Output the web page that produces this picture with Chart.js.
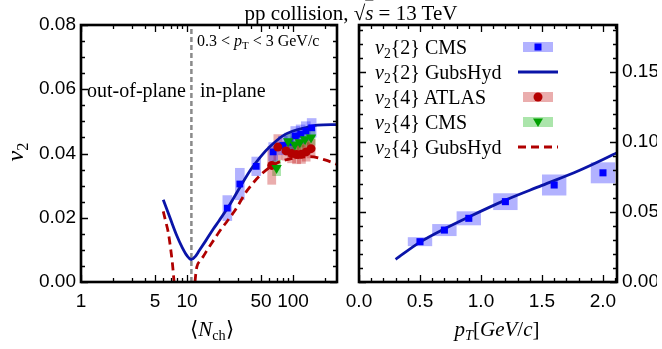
<!DOCTYPE html>
<html>
<head>
<meta charset="utf-8">
<script src="https://cdn.jsdelivr.net/npm/chart.js@4.4.0/dist/chart.umd.min.js"></script>
<style>
body { margin: 0; background: #fff; }
#wrap { position: relative; width: 662px; height: 349px; overflow: hidden; }
canvas { position: absolute; left: 0; top: 0; }
.t { position: absolute; font-family: "Liberation Serif", "Times New Roman", serif; white-space: nowrap; color: #000; line-height: 1; }
.c { transform: translate(-50%, -50%); }
.i { font-style: italic; }
.s { font-size: 0.68em; position: relative; top: 0.28em; }
.lg { position: absolute; left: 375px; font-size: 20px; transform: translateY(-50%); }
</style>
</head>
<body>
<div id="wrap">
  <canvas id="left" width="662" height="349"></canvas>
  <canvas id="right" width="662" height="349"></canvas>

  <div class="t c" style="left:351px; top:13px; font-size:21px;">pp collision, √<span class="i" style="text-decoration:overline">s</span> = 13 TeV</div>
  <div class="t" style="left:197px; top:33px; font-size:16px;">0.3 &lt; <span class="i">p</span><span class="s">T</span> &lt; 3 GeV/c</div>
  <div class="t" style="left:87px; top:80px; font-size:20px;">out-of-plane</div>
  <div class="t" style="left:200px; top:80px; font-size:20px;">in-plane</div>
  <div class="t c" style="left:15px; top:152px; font-size:24px; transform:translate(-50%,-50%) rotate(-90deg);"><span class="i">v</span><span class="s">2</span></div>
  <div class="t c" style="left:212px; top:329px; font-size:21px;">⟨<span class="i">N</span><span class="s">ch</span>⟩</div>
  <div class="t c" style="left:497px; top:329px; font-size:21px;"><span class="i">p</span><span class="s i">T</span>[<span class="i">GeV</span>/<span class="i">c</span>]</div>

  <div class="t lg" style="top:47px;"><span class="i">v</span><span class="s">2</span>{2} CMS</div>
  <div class="t lg" style="top:72px;"><span class="i">v</span><span class="s">2</span>{2} GubsHyd</div>
  <div class="t lg" style="top:97px;"><span class="i">v</span><span class="s">2</span>{4} ATLAS</div>
  <div class="t lg" style="top:122px;"><span class="i">v</span><span class="s">2</span>{4} CMS</div>
  <div class="t lg" style="top:147px;"><span class="i">v</span><span class="s">2</span>{4} GubsHyd</div>
</div>
<script>
// ---- left panel: v2 vs <Nch> ----
const nchTicks = [1, 5, 10, 50, 100];
const nchMinor = [2, 3, 4, 6, 7, 8, 9, 20, 30, 40, 60, 70, 80, 90, 200];
const v2LeftTicks = [0, 0.02, 0.04, 0.06, 0.08];
const nSplit = 11;

// GubsHyd v2{2}
const hydN2 = [5.97, 7, 8, 9, 10, 11, 12, 13, 15, 17.7, 20, 25, 31.6, 40, 50, 60, 80, 100, 130, 170, 260];
const hydV2 = [0.0256, 0.0195, 0.0145, 0.0108, 0.0082, 0.0070, 0.0080, 0.0097, 0.0128, 0.0165, 0.019, 0.0238, 0.0295, 0.035, 0.0392, 0.042, 0.0455, 0.047, 0.048, 0.0488, 0.049];
// GubsHyd v2{4} (null = not defined)
const hydN4 = [5.97, 6.3, 6.65, 7.0, 7.3, 7.55, 10, 11.9, 12.1, 12.4, 13.2, 14.2, 15.4, 18, 20, 24, 28, 37, 52, 70, 100, 145, 200, 260];
const hydV4 = [0.022, 0.0188, 0.0155, 0.0105, 0.0055, 0.0, null, 0.0, 0.0025, 0.0048, 0.0065, 0.0079, 0.0098, 0.0132, 0.0155, 0.019, 0.022, 0.0285, 0.034, 0.037, 0.0385, 0.039, 0.038, 0.0366];

// CMS v2{2}
const cms2N = [24, 31.5, 45, 65, 80, 92, 105, 118, 132, 150];
const cms2V = [0.023, 0.0305, 0.036, 0.0405, 0.0425, 0.0435, 0.0455, 0.046, 0.047, 0.048];
const cms2E = [0.004, 0.005, 0.003, 0.003, 0.003, 0.003, 0.003, 0.003, 0.003, 0.003];
// ATLAS v2{4}
const atlasN = [63, 72, 86, 97, 108, 120, 133, 148];
const atlasV = [0.0363, 0.042, 0.0408, 0.040, 0.0397, 0.0398, 0.0405, 0.0415];
const atlasE = [0.006, 0.004, 0.003, 0.003, 0.003, 0.003, 0.003, 0.003];
// CMS v2{4}
const cms4N = [70, 90, 104, 116, 130, 148];
const cms4V = [0.0355, 0.0438, 0.0428, 0.0435, 0.0444, 0.045];
const cms4E = [0.0025, 0.0025, 0.0025, 0.0025, 0.0025, 0.0025];

// ---- right panel: v2{2} vs pT ----
const ptTicks = [0, 0.5, 1, 1.5, 2];
const v2RightTicks = [0, 0.05, 0.1, 0.15];
const ptCms = [0.5, 0.7, 0.9, 1.2, 1.6, 2.0];
const v2Cms = [0.0288, 0.0371, 0.0455, 0.0574, 0.0693, 0.078];
const v2CmsE = [0.0032, 0.0043, 0.005, 0.006, 0.0075, 0.0075];
const ptHyd = [0.3, 0.5, 0.7, 0.9, 1.2, 1.5, 1.8, 2.12];
const v2Hyd = [0.0162, 0.0285, 0.038, 0.0465, 0.0585, 0.069, 0.0795, 0.0925];

const blueLine = '#0a14a8';
const redLine = '#b00000';
const blueBox = 'rgba(0,0,255,0.30)';
const redBox = 'rgba(190,0,0,0.32)';
const greenBox = 'rgba(0,175,0,0.33)';

const zip = (xs, ys) => xs.map((x, i) => ({ x: x, y: ys[i] }));
function range(a, b, step) {
    const out = [];
    for (let v = a; v <= b + 1e-9; v += step) out.push(+v.toFixed(4));
    return out;
}

const tickFont = { family: "'Liberation Sans', Arial, sans-serif", size: 19 };

const errBoxes = {
    id: 'errBoxes',
    beforeDatasetsDraw(chart) {
        const { ctx, chartArea: a, scales: { x, y } } = chart;
        ctx.save();
        ctx.beginPath();
        ctx.rect(a.left, a.top, a.right - a.left, a.bottom - a.top);
        ctx.clip();
        chart.data.datasets.forEach(ds => {
            const e = ds.errBox;
            if (!e) return;
            ctx.fillStyle = e.color;
            ds.data.forEach((p, i) => {
                const x0 = x.getPixelForValue(e.log ? p.x / e.dx : p.x - e.dx);
                const x1 = x.getPixelForValue(e.log ? p.x * e.dx : p.x + e.dx);
                const y0 = y.getPixelForValue(p.y + e.dy[i]);
                const y1 = y.getPixelForValue(p.y - e.dy[i]);
                ctx.fillRect(x0, y0, x1 - x0, y1 - y0);
            });
        });
        ctx.restore();
    }
};

function makeFrame(xMajor, xMinor, yMajor, yMinor) {
    return {
        id: 'frame',
        afterDraw(chart) {
            const { ctx, chartArea: a, scales: { x, y } } = chart;
            ctx.save();
            ctx.strokeStyle = '#000';
            ctx.lineWidth = 1.3;
            ctx.beginPath();
            const xt = (vals, len) => vals.forEach(v => {
                const px = Math.round(x.getPixelForValue(v)) + 0.5;
                ctx.moveTo(px, a.bottom); ctx.lineTo(px, a.bottom - len);
                ctx.moveTo(px, a.top); ctx.lineTo(px, a.top + len);
            });
            const yt = (vals, len) => vals.forEach(v => {
                const py = Math.round(y.getPixelForValue(v)) + 0.5;
                ctx.moveTo(a.left, py); ctx.lineTo(a.left + len, py);
                ctx.moveTo(a.right, py); ctx.lineTo(a.right - len, py);
            });
            xt(xMajor, 7); xt(xMinor, 4);
            yt(yMajor, 7); yt(yMinor, 4);
            ctx.stroke();
            ctx.lineWidth = 2.6;
            ctx.strokeRect(a.left, a.top, a.right - a.left, a.bottom - a.top);
            ctx.restore();
        }
    };
}

function axisX(extra) {
    return Object.assign({
        grid: { display: false, drawTicks: false },
        border: { display: false },
        afterFit: s => { s.height = 67; },
        ticks: { autoSkip: false, maxRotation: 0, padding: 8, color: '#000', font: tickFont }
    }, extra);
}

// ----- left chart -----
new Chart(document.getElementById('left'), {
    type: 'scatter',
    data: {
        datasets: [
            {
                label: 'v2{4} CMS', data: zip(cms4N, cms4V),
                pointStyle: 'triangle', rotation: 180, pointRadius: 6, backgroundColor: '#00a000', borderWidth: 0,
                errBox: { log: true, dx: 1.1, dy: cms4E, color: greenBox }
            },
            {
                label: 'v2{4} ATLAS', data: zip(atlasN, atlasV),
                pointStyle: 'circle', pointRadius: 4.5, backgroundColor: '#b40000', borderWidth: 0,
                errBox: { log: true, dx: 1.1, dy: atlasE, color: redBox }
            },
            {
                label: 'v2{2} CMS', data: zip(cms2N, cms2V),
                pointStyle: 'rect', pointRadius: 4.8, backgroundColor: '#0000ff', borderWidth: 0,
                errBox: { log: true, dx: 1.11, dy: cms2E, color: blueBox }
            },
            {
                label: 'v2{2} GubsHyd', type: 'line', data: zip(hydN2, hydV2),
                borderColor: blueLine, borderWidth: 2.8, pointRadius: 0, cubicInterpolationMode: 'monotone'
            },
            {
                label: 'v2{4} GubsHyd', type: 'line', data: zip(hydN4, hydV4),
                borderColor: redLine, borderWidth: 2.8, borderDash: [8, 5], pointRadius: 0,
                cubicInterpolationMode: 'monotone', spanGaps: false
            },
            {
                label: 'split', type: 'line', data: [{ x: nSplit, y: 0 }, { x: nSplit, y: 0.08 }],
                borderColor: '#8a8a8a', borderWidth: 2.5, borderDash: [5, 3], pointRadius: 0
            }
        ]
    },
    options: {
        responsive: false,
        animation: false,
        layout: { padding: { left: 0, right: 325, top: 25, bottom: 0 } },
        plugins: { legend: { display: false }, tooltip: { enabled: false } },
        scales: {
            x: axisX({
                type: 'logarithmic', min: 1, max: 260,
                afterBuildTicks: s => { s.ticks = nchTicks.map(v => ({ value: v })); },
                ticks: { autoSkip: false, maxRotation: 0, padding: 8, color: '#000', font: tickFont, callback: v => String(v) }
            }),
            y: {
                min: 0, max: 0.08,
                grid: { display: false, drawTicks: false },
                border: { display: false },
                afterFit: s => { s.width = 81; },
                afterBuildTicks: s => { s.ticks = v2LeftTicks.map(v => ({ value: v })); },
                ticks: { padding: 5, color: '#000', font: tickFont, callback: v => v.toFixed(2) }
            }
        }
    },
    plugins: [errBoxes, makeFrame(nchTicks, nchMinor, v2LeftTicks, range(0, 0.08, 0.005))]
});

// legend samples for the right panel
const legendSamples = {
    id: 'legendSamples',
    afterDraw(chart) {
        const ctx = chart.ctx;
        const cx = 538, rows = [47, 72, 97, 122, 147];
        ctx.save();
        const box = (y, c) => { ctx.fillStyle = c; ctx.fillRect(cx - 15, y - 5, 30, 10); };
        box(rows[0], blueBox);
        ctx.fillStyle = '#0000ff'; ctx.fillRect(cx - 3.5, rows[0] - 3.5, 7, 7);
        ctx.strokeStyle = blueLine; ctx.lineWidth = 2.8;
        ctx.beginPath(); ctx.moveTo(cx - 20, rows[1]); ctx.lineTo(cx + 20, rows[1]); ctx.stroke();
        box(rows[2], redBox);
        ctx.fillStyle = '#b40000'; ctx.beginPath(); ctx.arc(cx, rows[2], 4.5, 0, Math.PI * 2); ctx.fill();
        box(rows[3], greenBox);
        ctx.fillStyle = '#00a000'; ctx.beginPath();
        ctx.moveTo(cx - 5, rows[3] - 3.5); ctx.lineTo(cx + 5, rows[3] - 3.5); ctx.lineTo(cx, rows[3] + 5); ctx.closePath(); ctx.fill();
        ctx.strokeStyle = redLine; ctx.setLineDash([8, 5]);
        ctx.beginPath(); ctx.moveTo(cx - 20, rows[4]); ctx.lineTo(cx + 20, rows[4]); ctx.stroke();
        ctx.restore();
    }
};

// ----- right chart -----
new Chart(document.getElementById('right'), {
    type: 'scatter',
    data: {
        datasets: [
            {
                label: 'v2{2} CMS', data: zip(ptCms, v2Cms),
                pointStyle: 'rect', pointRadius: 5, backgroundColor: '#0000ff', borderWidth: 0,
                errBox: { log: false, dx: 0.1, dy: v2CmsE, color: blueBox }
            },
            {
                label: 'v2{2} GubsHyd', type: 'line', data: zip(ptHyd, v2Hyd),
                borderColor: blueLine, borderWidth: 2.8, pointRadius: 0, cubicInterpolationMode: 'monotone'
            }
        ]
    },
    options: {
        responsive: false,
        animation: false,
        layout: { padding: { left: 359, right: 5, top: 25, bottom: 0 } },
        plugins: { legend: { display: false }, tooltip: { enabled: false } },
        scales: {
            x: axisX({
                min: 0, max: 2.115,
                afterBuildTicks: s => { s.ticks = ptTicks.map(v => ({ value: v })); },
                ticks: { autoSkip: false, maxRotation: 0, padding: 8, color: '#000', font: tickFont, callback: v => v.toFixed(1) }
            }),
            y: {
                position: 'right', min: 0, max: 0.1836,
                grid: { display: false, drawTicks: false },
                border: { display: false },
                afterFit: s => { s.width = 40; },
                afterBuildTicks: s => { s.ticks = v2RightTicks.map(v => ({ value: v })); },
                ticks: { padding: 5, color: '#000', font: tickFont, callback: v => v.toFixed(2) }
            }
        }
    },
    plugins: [errBoxes, makeFrame(ptTicks, range(0, 2.1, 0.1), v2RightTicks, range(0, 0.18, 0.01)), legendSamples]
});
</script>
</body>
</html>
